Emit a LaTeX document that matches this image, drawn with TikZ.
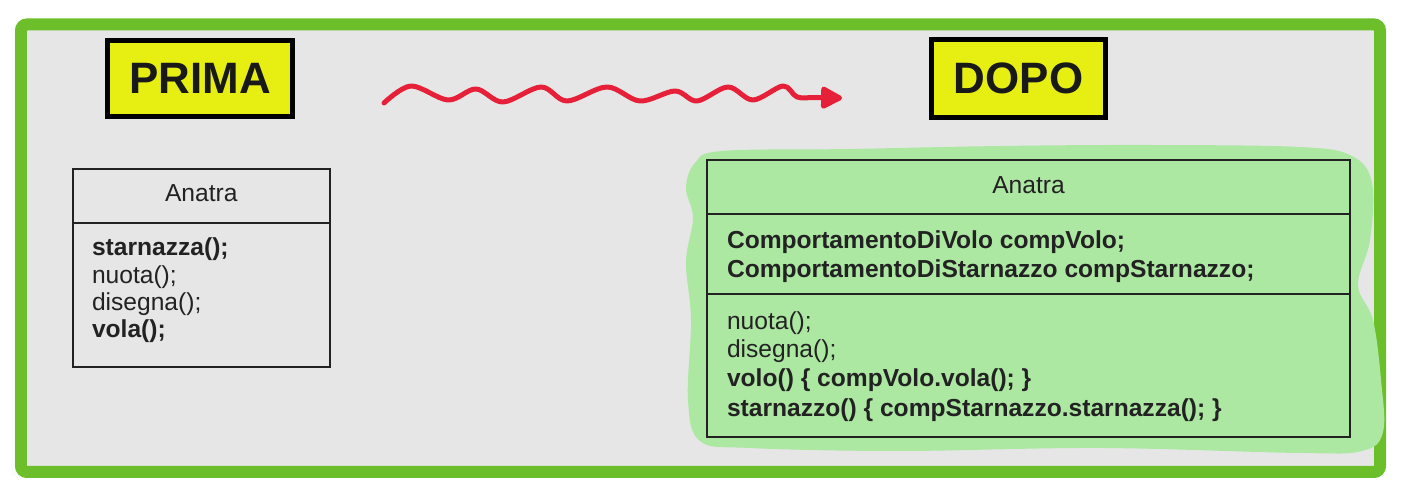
\documentclass[tikz,border=0pt]{standalone}
\usepackage{fontspec}
\setmainfont{Liberation Sans}
\usetikzlibrary{arrows.meta}
\definecolor{framegreen}{HTML}{6CBF2B}
\definecolor{bggray}{HTML}{E6E6E6}
\definecolor{hl}{HTML}{ADE8A3}
\definecolor{tagyellow}{HTML}{E6EE12}
\definecolor{wavered}{HTML}{E62039}
\definecolor{ink}{HTML}{222222}
\tikzset{
  tag/.style={draw=black, line width=0.1cm, fill=tagyellow, inner sep=0pt, outer sep=0pt,
    font=\fontsize{25}{30}\selectfont\bfseries, text=black!90},
  umlc/.style={draw=ink, line width=0.04cm, inner sep=0pt, outer sep=0pt, anchor=north west},
  txt/.style={inner sep=0pt, outer sep=0pt, text=ink, font=\fontsize{14}{16}\selectfont},
  wave/.style={wavered, line width=0.1cm, line cap=round, line join=round,
    -{Triangle[length=0.48cm,width=0.48cm,round]}}
}
\begin{document}
\begin{tikzpicture}[x=0.02cm,y=-0.02cm]
\useasboundingbox (0,0) rectangle (1402,492);
\fill[white] (0,0) rectangle (1402,492);
\fill[bggray!92!black!8] (11,26) rectangle (21,476);
\draw[framegreen, line width=0.24cm, fill=bggray, rounded corners=0.12cm] (21,24.5) rectangle (1380,472);

% title tags
\node[tag, minimum width=3.7cm, minimum height=1.52cm] (prima) at (200,78.5) {PRIMA};
\node[tag, minimum width=3.48cm, minimum height=1.56cm] (dopo) at (1018.5,78.5) {DOPO};

% wavy arrow
\coordinate (ws) at (384,103);
\coordinate (we) at (842,98);
\draw[wave] plot[smooth, tension=0.55] coordinates {(ws) (411,86) (448,100) (476,89) (503,102) (541,87) (567,101) (607,87) (640,101) (675,91) (697,101) (728,87) (753,100) (783,86) (797,97) (816,97.5) (we)};

% highlight blob
\fill[hl] plot[smooth cycle, tension=0.6] coordinates {(695,163) (722,151) (850,149) (1000,146) (1150,145) (1300,147) (1352,156) (1372,183) (1370,240) (1358,285) (1373,320) (1381,380) (1383,432) (1362,451) (1300,453) (1100,448) (900,451) (750,448) (700,441) (688,400) (691,320) (686,262) (693,218) (686,188)};

% left class
\node[umlc, minimum width=5.146cm, minimum height=1.074cm] (lhead) at (72.7,169) {};
\node[umlc, minimum width=5.146cm, minimum height=2.88cm] (lbody) at (lhead.south west) {};
\node[txt, anchor=base] (lname) at (201.3,201.7) {Anatra};
\node[txt, anchor=base west] (l1) at (92,256) {\bfseries starnazza();};
\node[txt, anchor=base west] (l2) at (92,284) {nuota();};
\node[txt, anchor=base west] (l3) at (92,311) {disegna();};
\node[txt, anchor=base west] (l4) at (92,338) {\bfseries vola();};

% right class
\node[umlc, fill=hl, minimum width=12.86cm, minimum height=1.08cm] (rhead) at (707,160) {};
\node[umlc, fill=hl, minimum width=12.86cm, minimum height=1.6cm] (rattr) at (rhead.south west) {};
\node[umlc, fill=hl, minimum width=12.86cm, minimum height=2.86cm] (rmeth) at (rattr.south west) {};
\node[txt, anchor=base] (rname) at (1028.5,194) {Anatra};
\node[txt, anchor=base west] (r1) at (727,249) {\bfseries ComportamentoDiVolo compVolo;};
\node[txt, anchor=base west] (r2) at (727,278) {\bfseries ComportamentoDiStarnazzo compStarnazzo;};
\node[txt, anchor=base west] (r3) at (727,330) {nuota();};
\node[txt, anchor=base west] (r4) at (727,358) {disegna();};
\node[txt, anchor=base west] (r5) at (727,387) {\bfseries volo() \{ compVolo.vola(); \}};
\node[txt, anchor=base west] (r6) at (727,417) {\bfseries starnazzo() \{ compStarnazzo.starnazza(); \}};
\end{tikzpicture}
\end{document}
